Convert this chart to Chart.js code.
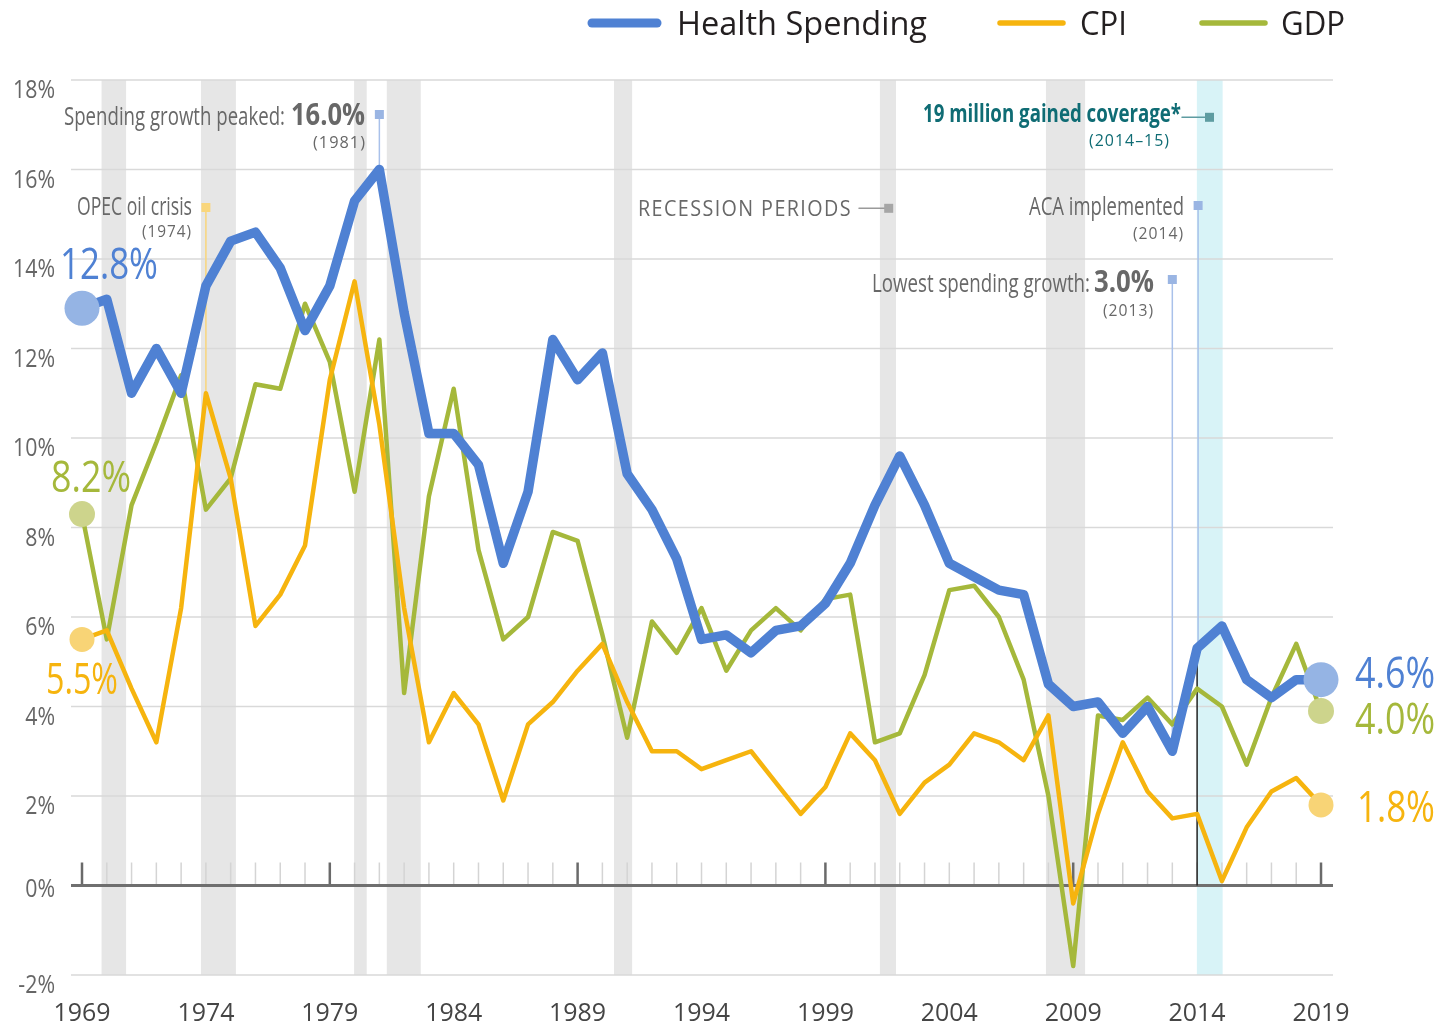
<!DOCTYPE html>
<html>
<head>
<meta charset="utf-8">
<title>Health Spending, CPI, GDP</title>
<script src="https://cdn.jsdelivr.net/npm/chart.js@4.4.0/dist/chart.umd.min.js"></script>
<style>
  html, body { margin: 0; padding: 0; background: #fff; }
  #wrap { position: relative; width: 1439px; height: 1027px; }
</style>
</head>
<body>
<div id="wrap"><canvas id="chart"></canvas></div>
<script>
// Years on the horizontal axis
const years = [1969, 1970, 1971, 1972, 1973, 1974, 1975, 1976, 1977, 1978,
    1979, 1980, 1981, 1982, 1983, 1984, 1985, 1986, 1987, 1988,
    1989, 1990, 1991, 1992, 1993, 1994, 1995, 1996, 1997, 1998,
    1999, 2000, 2001, 2002, 2003, 2004, 2005, 2006, 2007, 2008,
    2009, 2010, 2011, 2012, 2013, 2014, 2015, 2016, 2017, 2018, 2019];

// Annual growth, %
const healthSpending = [12.9, 13.1, 11.0, 12.0, 11.0, 13.4, 14.4, 14.6, 13.8, 12.4,
    13.4, 15.3, 16.0, 12.8, 10.1, 10.1, 9.4, 7.2, 8.8, 12.2,
    11.3, 11.9, 9.2, 8.4, 7.3, 5.5, 5.6, 5.2, 5.7, 5.8,
    6.3, 7.2, 8.5, 9.6, 8.5, 7.2, 6.9, 6.6, 6.5, 4.5,
    4.0, 4.1, 3.4, 4.0, 3.0, 5.3, 5.8, 4.6, 4.2, 4.6, 4.6];
const cpi = [5.5, 5.7, 4.4, 3.2, 6.2, 11.0, 9.1, 5.8, 6.5, 7.6,
    11.3, 13.5, 10.3, 6.2, 3.2, 4.3, 3.6, 1.9, 3.6, 4.1,
    4.8, 5.4, 4.1, 3.0, 3.0, 2.6, 2.8, 3.0, 2.3, 1.6,
    2.2, 3.4, 2.8, 1.6, 2.3, 2.7, 3.4, 3.2, 2.8, 3.8,
    -0.4, 1.6, 3.2, 2.1, 1.5, 1.6, 0.1, 1.3, 2.1, 2.4, 1.8];
const gdp = [8.3, 5.5, 8.5, 9.9, 11.4, 8.4, 9.1, 11.2, 11.1, 13.0,
    11.7, 8.8, 12.2, 4.3, 8.7, 11.1, 7.5, 5.5, 6.0, 7.9,
    7.7, 5.6, 3.3, 5.9, 5.2, 6.2, 4.8, 5.7, 6.2, 5.7,
    6.4, 6.5, 3.2, 3.4, 4.7, 6.6, 6.7, 6.0, 4.6, 2.0,
    -1.8, 3.8, 3.7, 4.2, 3.6, 4.4, 4.0, 2.7, 4.2, 5.4, 3.9];

// Axis ticks
const yTicks = [-2, 0, 2, 4, 6, 8, 10, 12, 14, 16, 18];
const xTickLabels = [1969, 1974, 1979, 1984, 1989, 1994, 1999, 2004, 2009, 2014, 2019];
const majorTickYears = [1969, 1979, 1989, 1999, 2009, 2019];

// Recession periods (start, end as fractional years) and coverage period
const recessions = [[1969.79, 1970.78], [1973.8, 1975.21], [1979.98, 1980.49], [1981.3, 1982.67],
    [1990.47, 1991.2], [2001.2, 2001.85], [2007.9, 2009.48]];
const coveragePeriod = [2013.99, 2015.03];

const FONT = '"Open Sans", "Noto Sans", sans-serif';
const GRAY = '#686868';

// Draw text squeezed horizontally to a target width (condensed look)
function drawText(ctx, str, x, y, opt) {
    ctx.save();
    ctx.font = (opt.weight || 'normal') + ' ' + opt.size + 'px ' + FONT;
    ctx.letterSpacing = (opt.spacing || 0) + 'px';
    ctx.fillStyle = opt.color || GRAY;
    ctx.textAlign = 'left';
    ctx.textBaseline = 'alphabetic';
    const m = ctx.measureText(str).width;
    const sx = opt.width ? opt.width / m : (opt.sx || 1);
    const w = m * sx;
    let left = x;
    if (opt.align === 'right') left = x - w;
    if (opt.align === 'center') left = x - w / 2;
    ctx.translate(left, y);
    ctx.scale(sx, 1);
    ctx.fillText(str, 0, 0);
    ctx.restore();
    return w;
}

function textScale(ctx, str, size, target) {
    ctx.save();
    ctx.font = 'normal ' + size + 'px ' + FONT;
    const m = ctx.measureText(str).width;
    ctx.restore();
    return target / m;
}

function square(ctx, cx, cy, color) {
    ctx.fillStyle = color;
    ctx.fillRect(cx - 4.5, cy - 4.5, 9, 9);
}

function vline(ctx, px, y0, y1, color, w) {
    ctx.strokeStyle = color;
    ctx.lineWidth = w;
    ctx.beginPath();
    ctx.moveTo(px, y0);
    ctx.lineTo(px, y1);
    ctx.stroke();
}

const decorations = {
    id: 'decorations',
    beforeDatasetsDraw(chart) {
        const { ctx, chartArea: a, scales: { x, y } } = chart;
        ctx.save();

        // Recession bands
        ctx.fillStyle = '#e6e6e6';
        recessions.forEach(([s, e]) => {
            const x0 = x.getPixelForValue(s), x1 = x.getPixelForValue(e);
            ctx.fillRect(x0, a.top, x1 - x0, a.bottom - a.top);
        });
        ctx.fillStyle = '#d8f3f7';
        const c0 = x.getPixelForValue(coveragePeriod[0]), c1 = x.getPixelForValue(coveragePeriod[1]);
        ctx.fillRect(c0, a.top, c1 - c0, a.bottom - a.top);

        // Horizontal gridlines
        ctx.strokeStyle = '#d9d9d9';
        ctx.lineWidth = 1.5;
        yTicks.forEach(v => {
            if (v === 0) return;
            const py = y.getPixelForValue(v);
            ctx.beginPath();
            ctx.moveTo(a.left, py);
            ctx.lineTo(a.right, py);
            ctx.stroke();
        });

        // Year ticks on the zero line
        const y0 = y.getPixelForValue(0);
        years.forEach(yr => {
            const px = x.getPixelForValue(yr);
            if (majorTickYears.includes(yr)) vline(ctx, px, y0 - 23, y0, '#6a6a6a', 2.5);
            else vline(ctx, px, y0 - 23, y0, '#d4d4d4', 1.5);
        });

        // Zero axis
        ctx.strokeStyle = '#6f6f6f';
        ctx.lineWidth = 3;
        ctx.beginPath();
        ctx.moveTo(a.left, y0);
        ctx.lineTo(a.right, y0);
        ctx.stroke();

        // Leader lines of the annotations
        const i1974 = years.indexOf(1974), i1981 = years.indexOf(1981);
        const i2013 = years.indexOf(2013), i2014 = years.indexOf(2014);
        vline(ctx, x.getPixelForValue(1981), 114.5, y.getPixelForValue(healthSpending[i1981]), '#a9c1ea', 1.5);
        vline(ctx, x.getPixelForValue(1974), 207.5, y.getPixelForValue(cpi[i1974]), '#f9d67c', 1.5);
        vline(ctx, x.getPixelForValue(2013), 279.5, y.getPixelForValue(healthSpending[i2013]), '#a9c1ea', 1.5);
        vline(ctx, x.getPixelForValue(2014) + 1, 205.5, y.getPixelForValue(healthSpending[i2014]), '#a9c1ea', 1.5);
        vline(ctx, x.getPixelForValue(2014), y.getPixelForValue(healthSpending[i2014]), y0, '#222', 1.5);

        ctx.restore();
    },
    afterDatasetsDraw(chart) {
        const { ctx, scales: { x, y } } = chart;
        ctx.save();

        // Y tick labels
        const syY = textScale(ctx, '18%', 26, 42);
        yTicks.forEach(v => {
            const py = y.getPixelForValue(v) + (v === 0 ? 11.5 : 18);
            drawText(ctx, v + '%', 55, py, { size: 26, sx: syY, align: 'right', color: '#666' });
        });

        // X tick labels
        const sxX = textScale(ctx, '1969', 26, 57);
        xTickLabels.forEach(yr => {
            drawText(ctx, String(yr), x.getPixelForValue(yr), 1021, { size: 26, sx: sxX, align: 'center', color: '#454545' });
        });

        // Legend
        const legend = [
            { label: 'Health Spending', color: '#4f81d3', lw: 9, x0: 592, x1: 657, tx: 677, tw: 250 },
            { label: 'CPI', color: '#f6b40e', lw: 5.5, x0: 1000, x1: 1063, tx: 1080, tw: 47 },
            { label: 'GDP', color: '#a5b83b', lw: 5.5, x0: 1202, x1: 1265, tx: 1281, tw: 64 }
        ];
        legend.forEach(l => {
            ctx.strokeStyle = l.color;
            ctx.lineWidth = l.lw;
            ctx.lineCap = 'round';
            ctx.beginPath();
            ctx.moveTo(l.x0, 23);
            ctx.lineTo(l.x1, 23);
            ctx.stroke();
            drawText(ctx, l.label, l.tx, 35, { size: 33, width: l.tw, color: '#231f20' });
        });

        // Peak annotation (1981)
        drawText(ctx, 'Spending growth peaked:', 64, 125, { size: 25, width: 221 });
        drawText(ctx, '16.0%', 291, 125, { size: 30, weight: 'bold', width: 74 });
        drawText(ctx, '(1981)', 366, 148, { size: 16, spacing: 1, width: 53, align: 'right' });
        square(ctx, x.getPixelForValue(1981), 114.5, '#9ab5e3');

        // OPEC oil crisis (1974)
        drawText(ctx, 'OPEC oil crisis', 192, 214.5, { size: 25, width: 115, align: 'right' });
        drawText(ctx, '(1974)', 192, 237, { size: 16, spacing: 1, width: 50, align: 'right' });
        square(ctx, x.getPixelForValue(1974), 207.5, '#f9d67c');

        // Recession periods
        drawText(ctx, 'RECESSION PERIODS', 638, 215.5, { size: 21, spacing: 1.5, width: 214 });
        ctx.strokeStyle = '#9a9a9a';
        ctx.lineWidth = 1.5;
        ctx.beginPath();
        ctx.moveTo(859, 208.3);
        ctx.lineTo(885, 208.3);
        ctx.stroke();
        square(ctx, 888.7, 208.3, '#a6a6a6');

        // Coverage
        drawText(ctx, '19 million gained coverage*', 1181, 121.5, { size: 25, weight: 'bold', width: 258, align: 'right', color: '#0f6c74' });
        drawText(ctx, '(2014\u201315)', 1170, 146, { size: 16, spacing: 1, width: 81, align: 'right', color: '#0f6c74' });
        ctx.strokeStyle = '#5e9ca1';
        ctx.lineWidth = 1.5;
        ctx.beginPath();
        ctx.moveTo(1182, 117.3);
        ctx.lineTo(1206, 117.3);
        ctx.stroke();
        square(ctx, 1209.5, 117.3, '#5e9ca1');

        // ACA implemented (2014)
        drawText(ctx, 'ACA implemented', 1184, 215, { size: 25, width: 155, align: 'right' });
        drawText(ctx, '(2014)', 1184, 238.5, { size: 16, spacing: 1, width: 51, align: 'right' });
        square(ctx, x.getPixelForValue(2014) + 1, 205.5, '#9ab5e3');

        // Lowest spending growth (2013)
        drawText(ctx, 'Lowest spending growth:', 1090, 291.5, { size: 25, width: 218, align: 'right' });
        drawText(ctx, '3.0%', 1154, 291.5, { size: 30, weight: 'bold', width: 60, align: 'right' });
        drawText(ctx, '(2013)', 1154, 316, { size: 16, spacing: 1, width: 51, align: 'right' });
        square(ctx, x.getPixelForValue(2013), 279.5, '#9ab5e3');

        // End values
        drawText(ctx, '12.8%', 60, 278.5, { size: 44, width: 98, color: '#4f81d3' });
        drawText(ctx, '8.2%', 51, 491.5, { size: 44, width: 80, color: '#a5b83b' });
        drawText(ctx, '5.5%', 46, 693.5, { size: 44, width: 72, color: '#f6b40e' });
        drawText(ctx, '4.6%', 1355, 687.5, { size: 44, width: 80, color: '#4f81d3' });
        drawText(ctx, '4.0%', 1355, 733.5, { size: 44, width: 80, color: '#a5b83b' });
        drawText(ctx, '1.8%', 1357, 822, { size: 44, width: 78, color: '#f6b40e' });

        ctx.restore();
    }
};

// Large dots only at the first and last year
function endRadius(r) {
    return years.map((_, i) => (i === 0 || i === years.length - 1) ? r : 0);
}

function toPoints(values) {
    return years.map((yr, i) => ({ x: yr, y: values[i] }));
}

const ctx = document.getElementById('chart').getContext('2d');
new Chart(ctx, {
    type: 'line',
    data: {
        datasets: [
            {
                label: 'Health Spending',
                data: toPoints(healthSpending),
                borderColor: '#4f81d3',
                borderWidth: 9.5,
                borderJoinStyle: 'round',
                pointRadius: endRadius(17.5),
                pointBackgroundColor: '#95b4e4',
                pointBorderWidth: 0,
                clip: false
            },
            {
                label: 'CPI',
                data: toPoints(cpi),
                borderColor: '#f6b40e',
                borderWidth: 4.5,
                borderJoinStyle: 'round',
                pointRadius: endRadius(12.5),
                pointBackgroundColor: '#f8d476',
                pointBorderWidth: 0,
                clip: false
            },
            {
                label: 'GDP',
                data: toPoints(gdp),
                borderColor: '#a5b83b',
                borderWidth: 4.5,
                borderJoinStyle: 'round',
                pointRadius: endRadius(13),
                pointBackgroundColor: '#cdd48c',
                pointBorderWidth: 0,
                clip: false
            }
        ]
    },
    options: {
        responsive: true,
        maintainAspectRatio: false,
        devicePixelRatio: 1,
        animation: false,
        events: [],
        layout: { padding: { left: 71, right: 106, top: 80, bottom: 52 } },
        elements: { line: { tension: 0 } },
        scales: {
            x: { type: 'linear', min: 1968.556, max: 2019.484, display: false },
            y: { type: 'linear', min: -2, max: 18, display: false }
        },
        plugins: {
            legend: { display: false },
            tooltip: { enabled: false }
        }
    },
    plugins: [decorations]
});
</script>
</body>
</html>
